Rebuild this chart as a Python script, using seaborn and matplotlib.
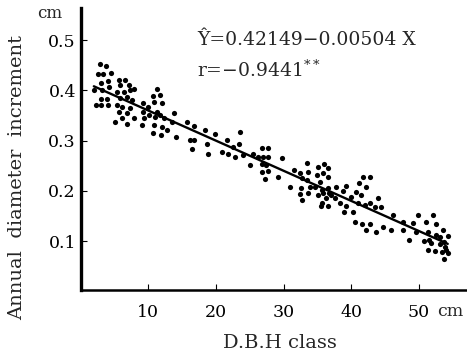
import numpy as np
import pandas as pd
import matplotlib
matplotlib.use("Agg")
import matplotlib.pyplot as plt
import seaborn as sns

# D.B.H class (cm) and annual diameter increment (cm)
dbh = [
    2.82, 3.66, 2.52, 3.32, 4.50, 2.92, 4.00, 1.93, 3.17, 4.14,
    2.92, 3.91, 2.29, 2.92, 4.06, 5.62, 6.61, 5.87, 7.09, 5.38,
    6.36, 7.35, 7.94, 5.87, 6.86, 7.60, 5.38, 6.12, 7.35, 5.62,
    6.86, 5.13, 6.12, 6.86, 7.94, 9.22, 9.90, 9.22, 10.04, 9.31,
    9.07, 10.69, 11.28, 11.67, 10.88, 12.02, 11.28, 11.77, 11.03, 12.26,
    10.78, 12.02, 10.69, 11.87, 12.76, 13.73, 13.50, 14.13, 15.71, 16.68,
    16.09, 16.68, 16.45, 18.41, 19.88, 18.66, 18.89, 21.61, 20.87, 21.84,
    22.58, 22.83, 23.57, 23.47, 24.06, 25.53, 25.04, 26.77, 27.74, 26.27,
    27.01, 27.74, 26.77, 27.40, 26.77, 27.74, 27.26, 29.22, 29.72, 30.94,
    31.58, 32.42, 33.50, 33.64, 32.67, 33.41, 32.52, 32.42, 32.67, 33.89,
    33.64, 35.12, 35.96, 36.59, 34.88, 35.86, 36.59, 35.37, 34.63, 35.62,
    36.59, 35.12, 36.25, 37.09, 37.83, 38.81, 39.31, 37.58, 38.32, 35.52,
    36.59, 39.31, 38.91, 41.76, 42.85, 41.17, 42.26, 35.77, 36.74, 35.62,
    40.04, 40.78, 41.52, 40.28, 41.02, 42.01, 42.74, 43.97, 43.48, 44.47,
    40.53, 41.67, 42.74, 42.15, 43.63, 44.71, 46.18, 45.94, 47.65, 47.65,
    48.54, 49.13, 49.87, 49.53, 51.11, 52.08, 52.48, 51.34, 51.59, 52.48,
    50.71, 51.84, 53.07, 53.55, 54.29, 53.80, 53.17, 53.95, 54.06, 51.34,
    52.33, 53.47, 54.29, 53.70,
]
increment = [
    0.453, 0.448, 0.433, 0.433, 0.435, 0.415, 0.418, 0.400, 0.400, 0.407,
    0.383, 0.383, 0.370, 0.370, 0.370, 0.421, 0.421, 0.410, 0.410, 0.397,
    0.397, 0.400, 0.402, 0.384, 0.387, 0.380, 0.370, 0.367, 0.364, 0.357,
    0.354, 0.337, 0.344, 0.334, 0.344, 0.375, 0.367, 0.357, 0.350, 0.344,
    0.331, 0.388, 0.402, 0.390, 0.377, 0.374, 0.357, 0.350, 0.347, 0.344,
    0.331, 0.327, 0.315, 0.311, 0.321, 0.354, 0.337, 0.307, 0.337, 0.329,
    0.301, 0.301, 0.284, 0.321, 0.314, 0.294, 0.274, 0.301, 0.278, 0.274,
    0.287, 0.268, 0.317, 0.294, 0.271, 0.274, 0.251, 0.285, 0.285, 0.268,
    0.268, 0.268, 0.254, 0.251, 0.238, 0.240, 0.223, 0.227, 0.266, 0.208,
    0.241, 0.235, 0.256, 0.238, 0.225, 0.221, 0.205, 0.193, 0.182, 0.208,
    0.195, 0.248, 0.254, 0.245, 0.231, 0.235, 0.227, 0.218, 0.208, 0.201,
    0.205, 0.191, 0.185, 0.191, 0.207, 0.200, 0.209, 0.185, 0.175, 0.170,
    0.170, 0.170, 0.158, 0.227, 0.227, 0.216, 0.208, 0.195, 0.195, 0.175,
    0.188, 0.198, 0.191, 0.158, 0.175, 0.172, 0.175, 0.185, 0.168, 0.167,
    0.138, 0.135, 0.135, 0.122, 0.118, 0.128, 0.152, 0.123, 0.138, 0.122,
    0.102, 0.136, 0.152, 0.118, 0.138, 0.152, 0.135, 0.118, 0.102, 0.112,
    0.101, 0.097, 0.109, 0.122, 0.110, 0.099, 0.094, 0.089, 0.083, 0.083,
    0.081, 0.079, 0.076, 0.064,
]

x_ticks = [10, 20, 30, 40, 50]
y_ticks = [0.1, 0.2, 0.3, 0.4, 0.5]
equation = "\u0176=0.42149\u22120.00504 X"
corr = "r=\u22120.9441$^{**}$"

df = pd.DataFrame({"dbh": dbh, "inc": increment})

sns.set_style("ticks")
plt.rcParams["font.family"] = ["DejaVu Serif"]
plt.rcParams["mathtext.fontset"] = "dejavuserif"

fig = plt.figure(figsize=(4.67, 3.59), dpi=100)
ax = fig.add_axes([0.173, 0.192, 0.825, 0.786])

sns.regplot(data=df, x="dbh", y="inc", ci=None, ax=ax,
            scatter_kws={"s": 14, "color": "black", "linewidths": 0, "alpha": 1},
            line_kws={"color": "black", "lw": 1.7})

ax.set_xlim(0, 57)
ax.set_ylim(0.0026, 0.564)
ax.set_xticks(x_ticks)
ax.set_yticks(y_ticks)
ax.set_yticklabels([f"{v:.1f}" for v in y_ticks])
ax.tick_params(direction="in", length=4, width=0.8, labelsize=12.5, colors="black")
ax.tick_params(axis="x", pad=10)

sns.despine(ax=ax)
ax.spines["left"].set_linewidth(2.4)
ax.spines["bottom"].set_linewidth(1.8)
ax.spines["left"].set_color("black")
ax.spines["bottom"].set_color("black")

ax.set_xlabel("D.B.H class", fontsize=14)
ax.set_ylabel("Annual  diameter  increment", fontsize=14)
ax.xaxis.set_label_coords(0.517, -0.188)
ax.xaxis.label.set_va("center")
ax.yaxis.set_label_coords(-0.164, 0.40)
ax.yaxis.label.set_va("center")
ax.text(-0.08, 0.979, "cm", transform=ax.transAxes, fontsize=12, ha="center", va="center")
ax.text(0.925, -0.075, "cm", transform=ax.transAxes, fontsize=12.5, ha="left", va="center")

ax.text(17.2, 0.50, equation, fontsize=13.5, va="center")
ax.text(17.2, 0.44, corr, fontsize=13.5, va="center")

fig.savefig("out.png", dpi=100)
